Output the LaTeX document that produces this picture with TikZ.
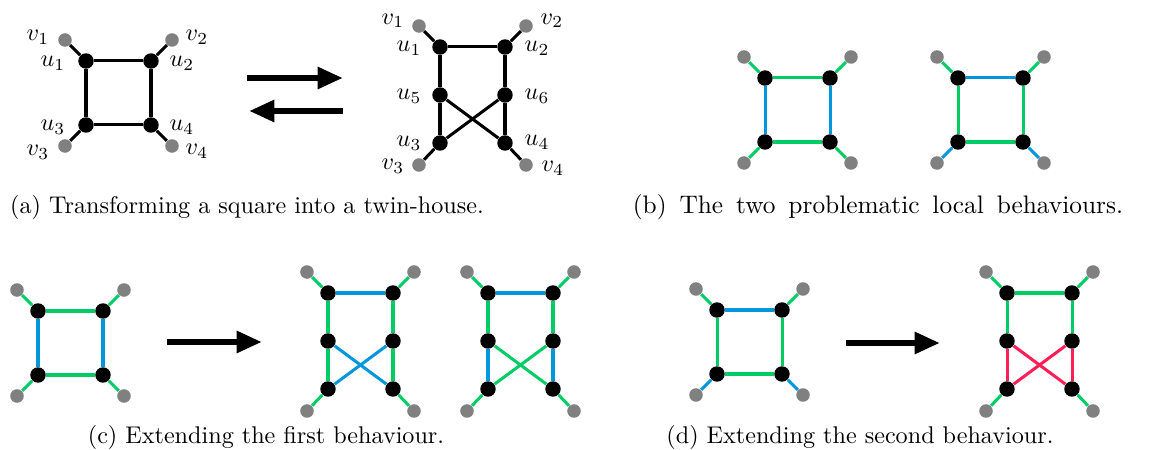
\documentclass[tikz,border=0pt]{standalone}
\usetikzlibrary{arrows.meta}
\definecolor{gE}{RGB}{0,204,102}
\definecolor{bE}{RGB}{0,150,220}
\definecolor{rE}{RGB}{255,30,85}
\definecolor{gN}{RGB}{128,128,128}
\tikzset{
  bn/.style={circle,fill=black,inner sep=0pt,minimum size=6.4pt},
  gn/.style={circle,fill=gN,inner sep=0pt,minimum size=5.6pt},
  ed/.style={line width=1.25pt},
  lbl/.style={inner sep=0pt},
  captext/.style={inner sep=0pt},
  bigarrow/.style={line width=2.6pt,-{Triangle[length=10.5pt,width=8.6pt]}}
}
% #1 prefix, #2 x, #3 y, #4 top, #5 sides, #6 bottom, #7 pend top, #8 pend bottom
\newcommand\mysquare[8]{%
  \node[bn] (#1u1) at (#2,#3) {};
  \node[bn] (#1u2) at ({#2+65},#3) {};
  \node[bn] (#1u3) at (#2,{#3+64}) {};
  \node[bn] (#1u4) at ({#2+65},{#3+64}) {};
  \node[gn] (#1v1) at ({#2-21},{#3-21}) {};
  \node[gn] (#1v2) at ({#2+86},{#3-21}) {};
  \node[gn] (#1v3) at ({#2-21},{#3+85}) {};
  \node[gn] (#1v4) at ({#2+86},{#3+85}) {};
  \draw[ed,#4] (#1u1) -- (#1u2);
  \draw[ed,#5] (#1u1) -- (#1u3);
  \draw[ed,#5] (#1u2) -- (#1u4);
  \draw[ed,#6] (#1u3) -- (#1u4);
  \draw[ed,#7] (#1u1) -- (#1v1);
  \draw[ed,#7] (#1u2) -- (#1v2);
  \draw[ed,#8] (#1u3) -- (#1v3);
  \draw[ed,#8] (#1u4) -- (#1v4);
}
% #1 prefix, #2 x, #3 y, #4 top, #5 upper sides, #6 lower sides, #7 cross, #8 pendants
\newcommand\mytwin[8]{%
  \node[bn] (#1u1) at (#2,#3) {};
  \node[bn] (#1u2) at ({#2+65},#3) {};
  \node[bn] (#1u5) at (#2,{#3+48}) {};
  \node[bn] (#1u6) at ({#2+65},{#3+48}) {};
  \node[bn] (#1u3) at (#2,{#3+96}) {};
  \node[bn] (#1u4) at ({#2+65},{#3+96}) {};
  \node[gn] (#1v1) at ({#2-21},{#3-21}) {};
  \node[gn] (#1v2) at ({#2+86},{#3-21}) {};
  \node[gn] (#1v3) at ({#2-21},{#3+118}) {};
  \node[gn] (#1v4) at ({#2+86},{#3+118}) {};
  \draw[ed,#4] (#1u1) -- (#1u2);
  \draw[ed,#5] (#1u1) -- (#1u5);
  \draw[ed,#5] (#1u2) -- (#1u6);
  \draw[ed,#6] (#1u5) -- (#1u3);
  \draw[ed,#6] (#1u6) -- (#1u4);
  \draw[ed,#7] (#1u5) -- (#1u4);
  \draw[ed,#7] (#1u6) -- (#1u3);
  \draw[ed,#8] (#1u1) -- (#1v1);
  \draw[ed,#8] (#1u2) -- (#1v2);
  \draw[ed,#8] (#1u3) -- (#1v3);
  \draw[ed,#8] (#1u4) -- (#1v4);
}
\begin{document}
\begin{tikzpicture}[x=0.414pt,y=-0.414pt]
\useasboundingbox (0,0) rectangle (1166,450);
% (a)
\mysquare{as}{86}{61}{black}{black}{black}{black}{black}
\node[lbl] (lasv1) at (38,37) {$v_1$};
\node[lbl] (lasu1) at (53,63) {$u_1$};
\node[lbl] (lasv2) at (197,37) {$v_2$};
\node[lbl] (lasu2) at (182,63) {$u_2$};
\node[lbl] (lasu3) at (53,127) {$u_3$};
\node[lbl] (lasv3) at (38,152) {$v_3$};
\node[lbl] (lasu4) at (182,127) {$u_4$};
\node[lbl] (lasv4) at (197,151) {$v_4$};
\coordinate (ar1s) at (247,78);
\coordinate (ar1e) at (343,78);
\coordinate (ar2s) at (343,111);
\coordinate (ar2e) at (249,111);
\draw[bigarrow] (ar1s) -- (ar1e);
\draw[bigarrow] (ar2s) -- (ar2e);
\mytwin{at}{440}{47}{black}{black}{black}{black}{black}
\node[lbl] (latv1) at (393,21) {$v_1$};
\node[lbl] (latu1) at (409,48) {$u_1$};
\node[lbl] (latv2) at (552,21) {$v_2$};
\node[lbl] (latu2) at (537,48) {$u_2$};
\node[lbl] (latu5) at (409,96) {$u_5$};
\node[lbl] (latu6) at (537,96) {$u_6$};
\node[lbl] (latu3) at (409,143) {$u_3$};
\node[lbl] (latu4) at (537,142) {$u_4$};
\node[lbl] (latv3) at (393,166) {$v_3$};
\node[lbl] (latv4) at (553,168) {$v_4$};
\node[captext] (capa) at (247,207) {(a) Transforming a square into a twin-house.};
% (b)
\mysquare{ba}{765}{78}{gE}{bE}{gE}{gE}{gE}
\mysquare{bb}{958}{78}{bE}{gE}{gE}{gE}{bE}
\node[captext] (capb) at (878,207) {\fontsize{10.5}{12.6}\selectfont\makebox[203pt][s]{(b) The two problematic local behaviours.}};
% (c)
\mysquare{cs}{38}{311}{gE}{bE}{gE}{gE}{gE}
\coordinate (ar3s) at (167,342);
\coordinate (ar3e) at (262,342);
\draw[bigarrow] (ar3s) -- (ar3e);
\mytwin{ct}{328}{293}{bE}{gE}{gE}{bE}{gE}
\mytwin{cu}{488}{293}{bE}{gE}{bE}{gE}{gE}
\node[captext] (capc) at (266,437) {(c) Extending the first behaviour.};
% (d)
\mysquare{ds}{717}{310}{bE}{gE}{gE}{gE}{bE}
\coordinate (ar4s) at (846,343);
\coordinate (ar4e) at (940,343);
\draw[bigarrow] (ar4s) -- (ar4e);
\mytwin{dt}{1007}{293}{gE}{gE}{rE}{rE}{gE}
\node[captext] (capd) at (860,437) {(d) Extending the second behaviour.};
\end{tikzpicture}
\end{document}
